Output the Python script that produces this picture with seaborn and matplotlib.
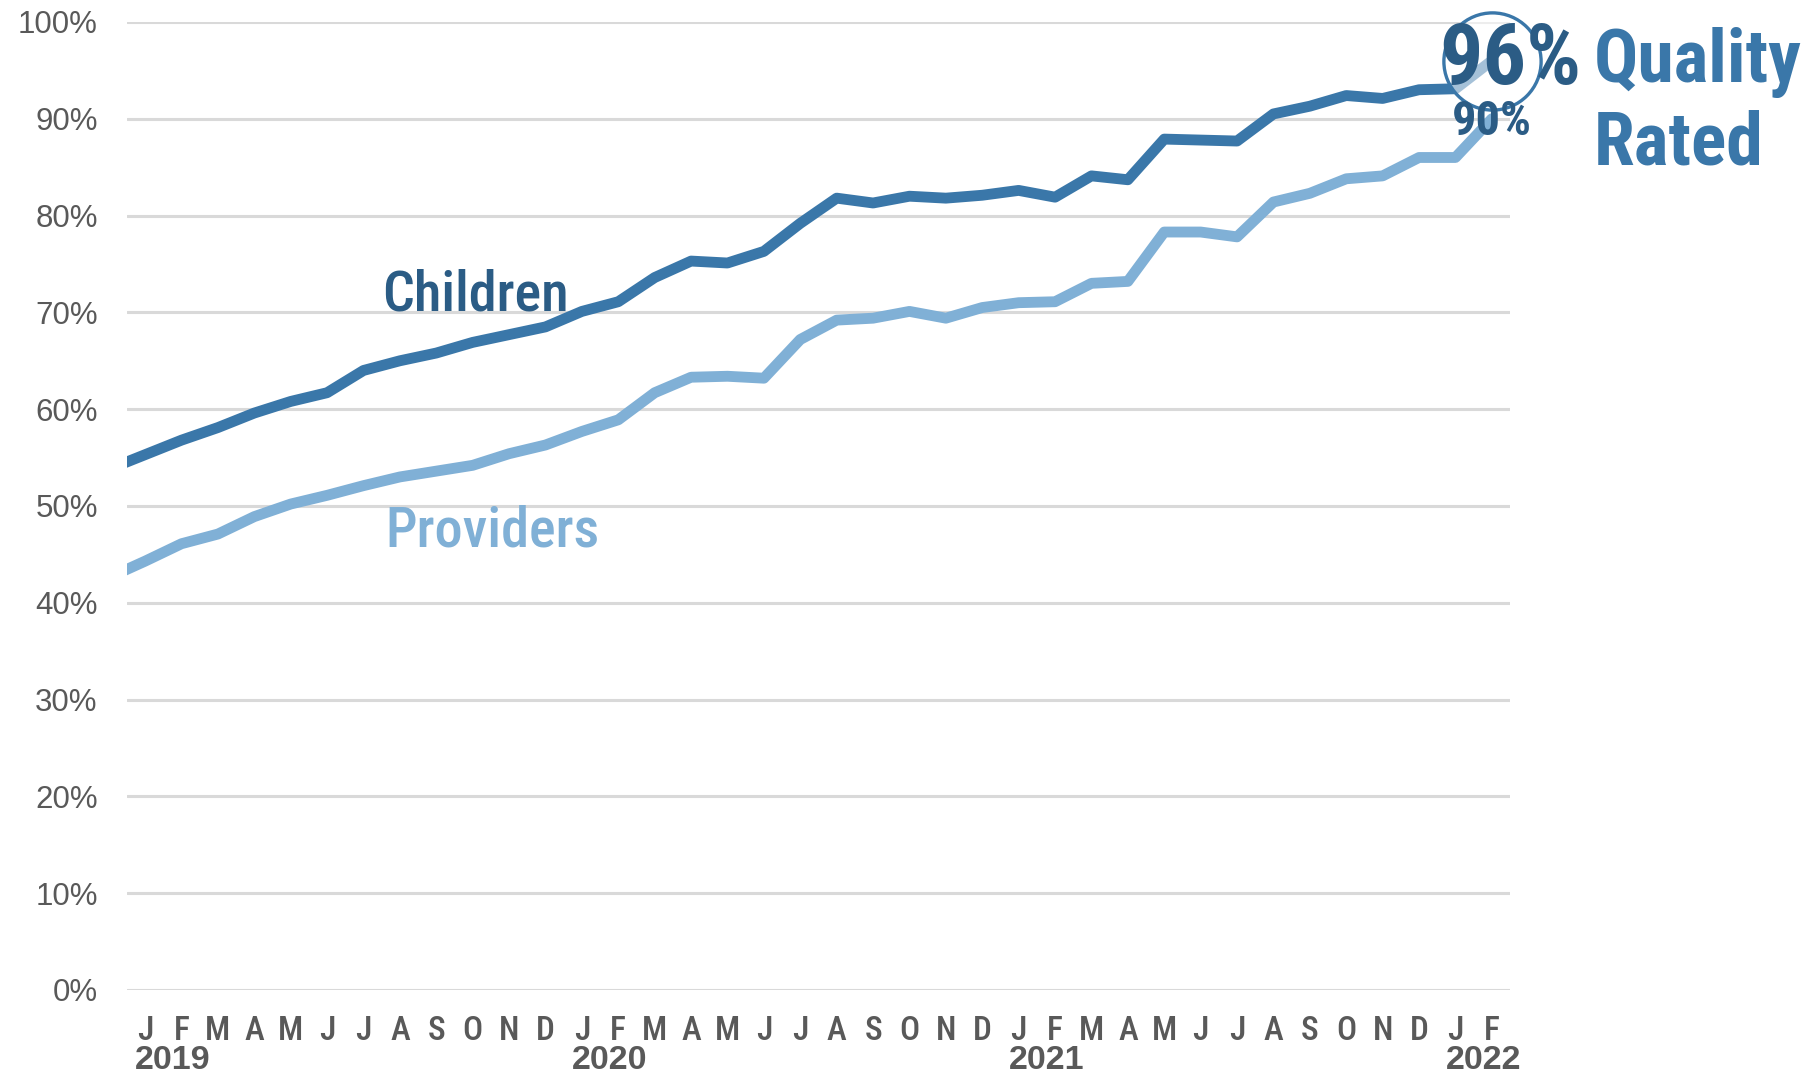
import matplotlib
matplotlib.use("Agg")
import matplotlib.pyplot as plt
import seaborn as sns
import pandas as pd
import os
from matplotlib import font_manager
from matplotlib.font_manager import FontProperties

# ---------------- data ----------------
month_letters = ["J", "F", "M", "A", "M", "J", "J", "A", "S", "O", "N", "D"] * 3 + ["J", "F"]
year_labels = {0: "2019", 12: "2020", 24: "2021", 36: "2022"}

# Dec 2018 lead-in value (line enters from the left edge), then Jan 2019 .. Feb 2022
children = [53.8,
            55.3, 56.8, 58.1, 59.6, 60.8, 61.7, 64.0, 65.0, 65.8, 66.9, 67.7, 68.5,
            70.1, 71.1, 73.6, 75.3, 75.1, 76.3, 79.2, 81.8, 81.3, 82.0, 81.8, 82.1,
            82.6, 81.9, 84.1, 83.7, 87.9, 87.8, 87.7, 90.5, 91.3, 92.4, 92.1, 93.0,
            93.1, 96.0]
providers = [42.6,
             44.3, 46.1, 47.1, 48.9, 50.2, 51.1, 52.1, 53.0, 53.6, 54.2, 55.4, 56.3,
             57.7, 58.9, 61.7, 63.3, 63.4, 63.2, 67.2, 69.2, 69.4, 70.1, 69.4, 70.5,
             71.0, 71.1, 73.0, 73.2, 78.3, 78.3, 77.8, 81.4, 82.3, 83.8, 84.1, 86.0,
             86.0, 90.0]
y_ticks = [0, 10, 20, 30, 40, 50, 60, 70, 80, 90, 100]

# ---------------- fonts ----------------
files = [f.fname for f in font_manager.fontManager.ttflist]


def pick(cands):
    for c in cands:
        for fn in files:
            if os.path.basename(fn).lower() == c.lower():
                return fn
    return None


bold_cond = pick(["LiberationSansNarrow-Bold.ttf", "RobotoCondensed-Bold.ttf",
                  "DejaVuSansCondensed-Bold.ttf"])
semi_cond = pick(["RobotoCondensed-Medium.ttf", "RobotoCondensed-SemiBold.ttf",
                  "RobotoCondensed-Bold.ttf", "LiberationSansNarrow-Bold.ttf",
                  "DejaVuSansCondensed-Bold.ttf"])


def fp_bold(size):
    if bold_cond:
        return FontProperties(fname=bold_cond, size=size)
    return FontProperties(family="DejaVu Sans", weight="bold", stretch="condensed", size=size)


def fp_semi(size):
    if semi_cond:
        return FontProperties(fname=semi_cond, size=size)
    return FontProperties(family="DejaVu Sans", weight="bold", stretch="condensed", size=size)


C_DARK = "#3a77a9"
C_LIGHT = "#80b0d6"
C_TEXT_DARK = "#2b5c85"
C_GRAY = "#595959"

sns.set_theme(style="white")
plt.rcParams["font.family"] = ["Liberation Sans", "DejaVu Sans"]

idx = list(range(-1, len(month_letters)))
df = pd.DataFrame({
    "idx": idx * 2,
    "value": children + providers,
    "series": ["Children"] * len(children) + ["Providers"] * len(providers),
})

fig = plt.figure(figsize=(18.08, 10.77), dpi=100)
ax = fig.add_axes([0.0702, 0.0808, 0.765, 0.8988])

sns.lineplot(data=df, x="idx", y="value", hue="series",
             palette={"Children": C_DARK, "Providers": C_LIGHT},
             linewidth=7.8, legend=False, ax=ax, zorder=2)
for ln in ax.lines:
    ln.set_solid_joinstyle("round")

ax.set_xlim(-0.5, len(month_letters) - 0.5)
ax.set_ylim(0, 100)
ax.set_yticks(y_ticks)
ax.set_yticklabels([f"{t}%" for t in y_ticks], color=C_GRAY, fontsize=22.5)
ax.yaxis.grid(True, color="#d9d9d9", linewidth=2.2)
ax.xaxis.grid(False)
for s in ax.spines.values():
    s.set_visible(False)
ax.set_xlabel("")
ax.set_ylabel("")

ax.set_xticks(range(len(month_letters)))
ax.set_xticklabels(month_letters, color=C_GRAY, fontproperties=fp_semi(24))
ax.tick_params(axis="x", length=0, pad=18)
ax.tick_params(axis="y", length=0, pad=21)

for i, yr in year_labels.items():
    ax.annotate(yr, xy=(i - 0.27, 0), xycoords=("data", "axes fraction"),
                xytext=(0, -51), textcoords="offset points",
                ha="left", va="center", color=C_GRAY,
                fontsize=24.5, fontweight="bold", family=["Liberation Sans", "DejaVu Sans"],
                annotation_clip=False)

# circle highlight on the latest point
last = len(month_letters) - 1
ax.scatter([last], [children[-1]], s=70 ** 2, facecolor=(1, 1, 1, 0.55),
           edgecolor=C_DARK, linewidth=2.4, zorder=3, clip_on=False)

# series labels
ax.text(9.07, 70.2, "Children", color=C_TEXT_DARK, fontproperties=fp_semi(40.5),
        ha="center", va="baseline", zorder=4)
ax.text(9.53, 45.8, "Providers", color=C_LIGHT, fontproperties=fp_semi(40.5),
        ha="center", va="baseline", zorder=4)

ax.text(last + 0.5, 93.6, "96%", color=C_TEXT_DARK, fontproperties=fp_bold(62),
        ha="center", va="baseline", zorder=5, clip_on=False)
ax.text(last, 88.3, "90%", color=C_TEXT_DARK, fontproperties=fp_bold(35),
        ha="center", va="baseline", zorder=5, clip_on=False)

fig.text(0.8816, 0.9239, "Quality", color=C_DARK, fontproperties=fp_bold(53),
         ha="left", va="baseline")
fig.text(0.8816, 0.8468, "Rated", color=C_DARK, fontproperties=fp_bold(53),
         ha="left", va="baseline")

fig.savefig("out.png", dpi=100, facecolor="white")
